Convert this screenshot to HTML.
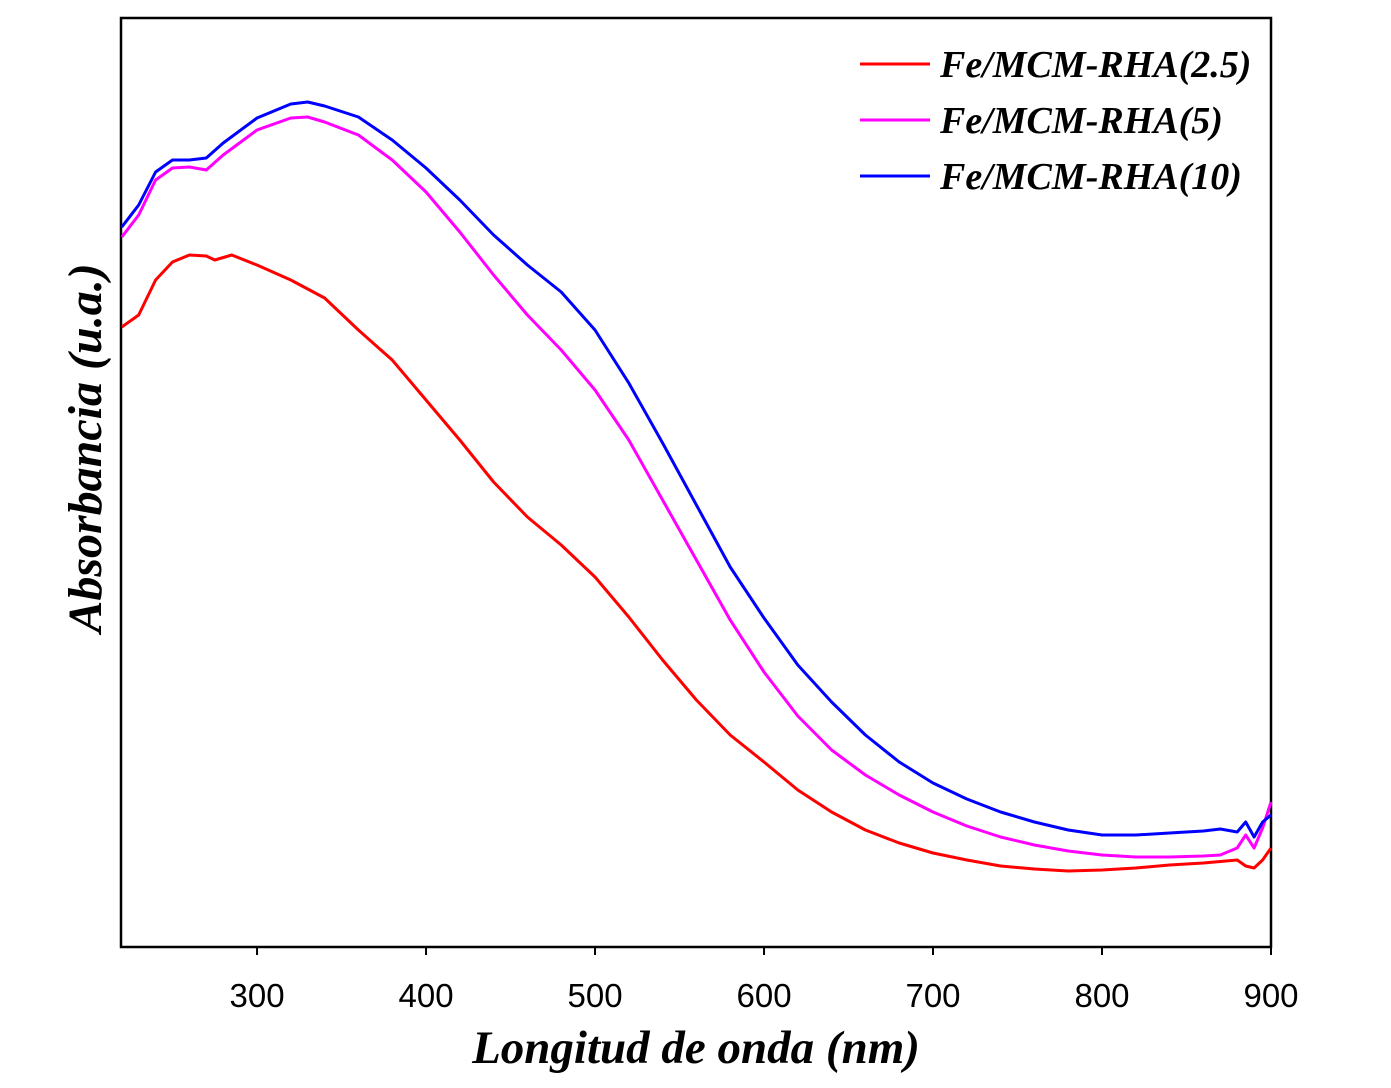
<!DOCTYPE html>
<html><head><meta charset="utf-8"><style>
html,body{margin:0;padding:0;background:#fff;}
svg text{font-family:"Liberation Sans",sans-serif;}
</style></head><body>
<svg id="chart" width="1391" height="1083" xmlns="http://www.w3.org/2000/svg">
<rect x="121" y="18" width="1150" height="929" fill="none" stroke="#000" stroke-width="2.5"/>
<g id="xticks"></g>
<g id="series"></g>
<text x="696" y="1063" text-anchor="middle" style="font-family:'Liberation Serif',serif;font-style:italic;font-weight:bold;font-size:47px">Longitud de onda (nm)</text>
<text transform="translate(101,448) rotate(-90)" text-anchor="middle" style="font-family:'Liberation Serif',serif;font-style:italic;font-weight:bold;font-size:48px">Absorbancia (u.a.)</text>
<g id="legend"></g>
</svg>
<script>
const wlRed=[220,230,240,250,260,270,275,285,300,320,340,360,380,400,420,440,460,480,500,520,540,560,580,600,620,640,660,680,700,720,740,760,780,800,820,840,860,880,885,890,895,900];
const absRed=[620,632,667,685,692,691,687,692,682,667,649,617,587,547,507,465,430,402,370,330,287,247,212,185,157,135,117,104,94,87,81,78,76,77,79,82,84,87,81,79,87,99];
const wlOther=[220,230,240,250,260,270,280,300,320,330,340,360,380,400,420,440,460,480,500,520,540,560,580,600,620,640,660,680,700,720,740,760,780,800,820,840,860,870,880,885,890,895,900];
const absMagenta=[710,732,767,779,780,777,792,817,829,830,825,812,787,755,715,672,632,597,557,507,447,387,327,275,231,197,172,152,135,121,110,102,96,92,90,90,91,92,99,112,99,119,145];
const absBlue=[720,742,775,787,787,789,804,829,843,845,841,830,807,779,747,712,682,655,617,564,504,442,380,329,282,245,212,185,164,148,135,125,117,112,112,114,116,118,115,125,110,125,132];
const xTicks=[300,400,500,600,700,800,900];
const seriesNames=["Fe/MCM-RHA(2.5)","Fe/MCM-RHA(5)","Fe/MCM-RHA(10)"];
const NS="http://www.w3.org/2000/svg";
const X0=121,X1=1271,Y0=947,Y1=18,XMIN=219.5,XMAX=900,YMIN=0,YMAX=929;
function sx(v){return X0+(v-XMIN)/(XMAX-XMIN)*(X1-X0);}
function sy(v){return Y0-(v-YMIN)/(YMAX-YMIN)*(Y0-Y1);}
const gx=document.getElementById('xticks');
xTicks.forEach(t=>{
 const l=document.createElementNS(NS,'line');
 l.setAttribute('x1',sx(t));l.setAttribute('x2',sx(t));l.setAttribute('y1',Y0);l.setAttribute('y2',Y0+8);
 l.setAttribute('stroke','#000');l.setAttribute('stroke-width','2');
 
 
 gx.appendChild(l);
 const tx=document.createElementNS(NS,'text');
 tx.setAttribute('x',sx(t));tx.setAttribute('y',1007);tx.setAttribute('text-anchor','middle');tx.setAttribute('font-size','33');
 tx.textContent=t;
 
 
 gx.appendChild(tx);
});
const gs=document.getElementById('series');
const defs=[[wlRed,absRed,'#ff0000','series-fe-2-5'],[wlOther,absMagenta,'#ff00ff','series-fe-5'],[wlOther,absBlue,'#0000ff','series-fe-10']];
defs.forEach(d=>{
 const p=document.createElementNS(NS,'path');
 p.setAttribute('d',d[0].map((w,i)=>(i?'L':'M')+sx(w).toFixed(1)+' '+sy(d[1][i]).toFixed(1)).join(''));
 p.setAttribute('fill','none');p.setAttribute('stroke',d[2]);p.setAttribute('stroke-width','3');p.setAttribute('stroke-linejoin','round');
 
 
 gs.appendChild(p);
});
const gl=document.getElementById('legend');
seriesNames.forEach((n,i)=>{
 const y=64+i*56;
 const l=document.createElementNS(NS,'line');
 l.setAttribute('x1',860);l.setAttribute('x2',930);l.setAttribute('y1',y);l.setAttribute('y2',y);
 l.setAttribute('stroke',defs[i][2]);l.setAttribute('stroke-width','3');
 
 
 gl.appendChild(l);
 const t=document.createElementNS(NS,'text');
 t.setAttribute('x',940);t.setAttribute('y',y+13);
 t.setAttribute('style',"font-family:'Liberation Serif',serif;font-style:italic;font-weight:bold;font-size:38px");
 t.textContent=n;
 
 
 gl.appendChild(t);
});
</script>
</body></html>
